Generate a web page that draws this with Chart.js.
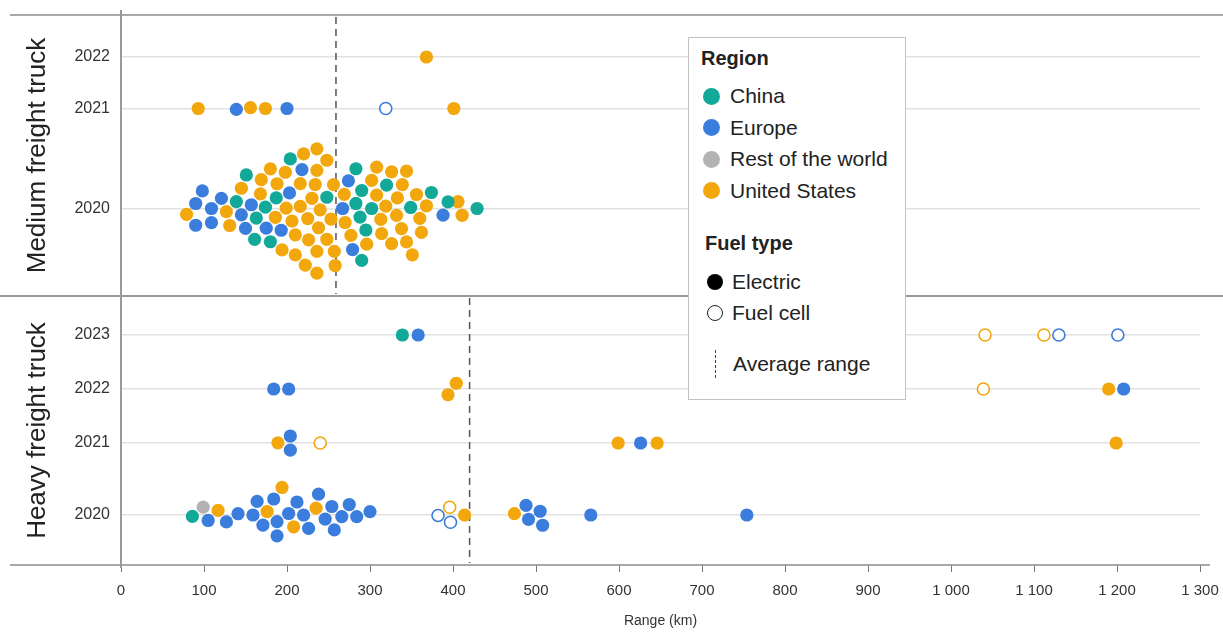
<!DOCTYPE html>
<html>
<head>
<meta charset="utf-8">
<script src="https://cdn.jsdelivr.net/npm/chart.js@4.4.1/dist/chart.umd.min.js"></script>
<style>
  html, body { margin: 0; padding: 0; background: #ffffff; }
  #wrap { position: relative; width: 1223px; height: 632px; overflow: hidden; }
  #chart { position: absolute; left: 0; top: 0; }
  #legend { position: absolute; left: 688px; top: 37px; width: 218px; height: 363px;
    box-sizing: border-box; border: 1.5px solid #c2c2c2; background: #ffffff;
    font-family: 'Liberation Sans', Arial, sans-serif; color: #222; }
  #legend .t { position: absolute; font-weight: bold; font-size: 20px; line-height: 24px; white-space: nowrap; }
  #legend .lab { position: absolute; font-size: 21px; line-height: 24px; white-space: nowrap; }
  #legend .dot { position: absolute; border-radius: 50%; box-sizing: border-box; }
  #legend .dash { position: absolute; width: 0; border-left: 1.5px dashed #444; }
</style>
</head>
<body>
<div id="wrap">
  <canvas id="chart" width="1223" height="632"></canvas>
  <div id="legend"></div>
</div>
<script>
// ---------------- DATA ----------------
const regions = ['China', 'Europe', 'Rest of the world', 'United States'];
const regionColors = ['#12a998', '#3b7ddc', '#b3b3b3', '#f2a70d'];
const fuelTypes = ['Electric', 'Fuel cell'];
const segments = ['Medium freight truck', 'Heavy freight truck'];
const mediumYears = ['2022', '2021', '2020'];
const heavyYears = ['2023', '2022', '2021', '2020'];
const xTickValues = [0, 100, 200, 300, 400, 500, 600, 700, 800, 900, 1000, 1100, 1200, 1300];

// Average range (km)
const avgMedium = 259;
const avgHeavy = 420;

// Medium freight truck ranges (km)
const medium2022US = [368];
const medium2021US = [93, 156, 174, 401];
const medium2021Europe = [139, 200];
const medium2021EuropeFC = [319];
const medium2020China = [139, 151, 161, 163, 174, 180, 187, 204, 248, 283, 283, 288, 290, 290, 295, 302, 320, 349, 374, 394, 429];
const medium2020Europe = [90, 90, 98, 109, 109, 121, 145, 150, 157, 175, 193, 203, 218, 267, 274, 279, 388];
const medium2020US = [79, 127, 131, 145, 168, 169, 180, 186, 188, 194, 198, 199, 206, 210, 210, 216, 216, 220, 222, 225,
  226, 230, 234, 236, 236, 236, 236, 238, 240, 248, 248, 253, 256, 257, 258, 269, 270, 277, 296, 302,
  308, 308, 313, 314, 319, 326, 326, 332, 333, 338, 339, 344, 344, 351, 356, 360, 362, 368, 406, 411];

// Heavy freight truck ranges (km)
const heavy2023China = [339];
const heavy2023Europe = [358];
const heavy2023USFC = [1041, 1112];
const heavy2023EuropeFC = [1130, 1201];
const heavy2022Europe = [184, 202, 1208];
const heavy2022US = [394, 404, 1190];
const heavy2022USFC = [1039];
const heavy2021US = [189, 599, 646, 1199];
const heavy2021Europe = [204, 204, 626];
const heavy2021USFC = [240];
const heavy2020China = [86];
const heavy2020Rest = [99];
const heavy2020US = [117, 176, 194, 208, 235, 414, 474];
const heavy2020Europe = [105, 127, 141, 159, 164, 171, 184, 188, 188, 202, 212, 220, 226, 238, 246, 254, 257, 266, 275, 284, 300,
  488, 491, 505, 508, 566, 754];
const heavy2020EuropeFC = [382, 397];
const heavy2020USFC = [396];

// ---------------- LAYOUT (not data) ----------------
// vertical position of each row (px below the top frame line)
const rowPositions = { m2022: 42, m2021: 93.5, m2020: 193.5, h2023: 320, h2022: 374, h2021: 428, h2020: 500 };
const rowLabels = { m2022: mediumYears[0], m2021: mediumYears[1], m2020: mediumYears[2],
  h2023: heavyYears[0], h2022: heavyYears[1], h2021: heavyYears[2], h2020: heavyYears[3] };
const panelRanges = { medium: [0, 281], heavy: [281, 550] };
const DOT_R = 6.6;
const SWARM_D = 14.2;
const FONT = "'Liberation Sans', Arial, sans-serif";

const seriesDefs = [
  ['m2022', 'United States', 'Electric', medium2022US],
  ['m2021', 'United States', 'Electric', medium2021US],
  ['m2021', 'Europe', 'Electric', medium2021Europe],
  ['m2021', 'Europe', 'Fuel cell', medium2021EuropeFC],
  ['m2020', 'China', 'Electric', medium2020China],
  ['m2020', 'Europe', 'Electric', medium2020Europe],
  ['m2020', 'United States', 'Electric', medium2020US],
  ['h2023', 'China', 'Electric', heavy2023China],
  ['h2023', 'Europe', 'Electric', heavy2023Europe],
  ['h2023', 'United States', 'Fuel cell', heavy2023USFC],
  ['h2023', 'Europe', 'Fuel cell', heavy2023EuropeFC],
  ['h2022', 'Europe', 'Electric', heavy2022Europe],
  ['h2022', 'United States', 'Electric', heavy2022US],
  ['h2022', 'United States', 'Fuel cell', heavy2022USFC],
  ['h2021', 'United States', 'Electric', heavy2021US],
  ['h2021', 'Europe', 'Electric', heavy2021Europe],
  ['h2021', 'United States', 'Fuel cell', heavy2021USFC],
  ['h2020', 'China', 'Electric', heavy2020China],
  ['h2020', 'Rest of the world', 'Electric', heavy2020Rest],
  ['h2020', 'United States', 'Electric', heavy2020US],
  ['h2020', 'Europe', 'Electric', heavy2020Europe],
  ['h2020', 'Europe', 'Fuel cell', heavy2020EuropeFC],
  ['h2020', 'United States', 'Fuel cell', heavy2020USFC]
];

const datasets = seriesDefs.map(([row, region, fuel, values]) => {
  const col = regionColors[regions.indexOf(region)];
  const electric = fuel === fuelTypes[0];
  return {
    type: 'scatter',
    swarm: true,
    label: region + ' - ' + fuel,
    data: values.map(v => ({ x: v, y: rowPositions[row], row: row })),
    pointRadius: electric ? DOT_R : DOT_R - 0.6,
    pointHoverRadius: DOT_R,
    pointStyle: 'circle',
    backgroundColor: electric ? col : '#ffffff',
    borderColor: col,
    borderWidth: electric ? 0 : 1.6,
    order: 1
  };
});

function avgLine(value, range) {
  return {
    type: 'line',
    data: [{ x: value, y: range[0] + 2 }, { x: value, y: range[1] - 2 }],
    borderColor: '#555555', borderWidth: 1.5, borderDash: [7, 5],
    pointRadius: 0, fill: false, order: 5
  };
}
datasets.push(avgLine(avgMedium, panelRanges.medium));
datasets.push(avgLine(avgHeavy, panelRanges.heavy));

const rowKeys = Object.keys(rowPositions);

function fmtKm(v) { return String(v).replace(/\B(?=(\d{3})+(?!\d))/g, ' '); }

const framePlugin = {
  id: 'frame',
  beforeDatasetsDraw(chart) {
    const { ctx, scales: { y }, chartArea: a } = chart;
    const ln = (x1, y1, x2, y2, w, c) => {
      ctx.beginPath(); ctx.lineWidth = w; ctx.strokeStyle = c;
      ctx.moveTo(x1, y1); ctx.lineTo(x2, y2); ctx.stroke();
    };
    ctx.save();
    const yTop = y.getPixelForValue(panelRanges.medium[0]);
    const ySplit = y.getPixelForValue(panelRanges.heavy[0]);
    const yBot = y.getPixelForValue(panelRanges.heavy[1]);
    ln(10, yTop, chart.width, yTop, 1.5, '#8c8c8c');
    ln(0, ySplit, chart.width, ySplit, 2, '#999999');
    ln(10, yBot, 1210, yBot, 1.5, '#8c8c8c');
    ln(a.left, 10, a.left, yBot + 3, 2, '#999999');
    ctx.restore();
  },
  afterDraw(chart) {
    const { ctx, scales: { y } } = chart;
    ctx.save();
    ctx.fillStyle = '#222';
    ctx.font = '26px ' + FONT;
    ctx.textAlign = 'center';
    ctx.textBaseline = 'middle';
    [[segments[0], panelRanges.medium], [segments[1], panelRanges.heavy]].forEach(([txt, r]) => {
      const mid = (y.getPixelForValue(r[0]) + y.getPixelForValue(r[1])) / 2;
      ctx.save();
      ctx.translate(38, mid);
      ctx.rotate(-Math.PI / 2);
      ctx.fillText(txt, 0, 0);
      ctx.restore();
    });
    ctx.restore();
  }
};

const chart = new Chart(document.getElementById('chart'), {
  type: 'scatter',
  data: { datasets },
  plugins: [framePlugin],
  options: {
    responsive: false,
    animation: false,
    events: [],
    layout: { padding: { left: 0, right: 23, top: 15, bottom: 0 } },
    plugins: { legend: { display: false }, tooltip: { enabled: false } },
    scales: {
      x: {
        type: 'linear', min: 0, max: 1300,
        afterBuildTicks: s => { s.ticks = xTickValues.map(v => ({ value: v })); },
        ticks: { callback: v => fmtKm(v), font: { size: 15, family: FONT }, color: '#333', padding: 10, maxRotation: 0, autoSkip: false },
        grid: { drawOnChartArea: false, drawTicks: true, tickLength: 7, color: '#777', lineWidth: 1 },
        border: { display: false },
        title: { display: true, text: 'Range (km)', font: { size: 14, family: FONT }, color: '#333', padding: { top: 0, bottom: 2 } },
        afterFit: s => { s.height = 67; s.paddingLeft = 0; s.paddingRight = 0; }
      },
      y: {
        type: 'linear', reverse: true, min: 0, max: 550,
        afterBuildTicks: s => { s.ticks = rowKeys.map(k => ({ value: rowPositions[k] })); },
        ticks: { callback: (v, i) => rowLabels[rowKeys[i]], font: { size: 16, family: FONT }, color: '#333', padding: 11, autoSkip: false },
        grid: { color: '#e2e2e2', lineWidth: 1.5, drawTicks: false },
        border: { display: false },
        afterFit: s => { s.width = 121; s.paddingTop = 0; s.paddingBottom = 0; }
      }
    }
  }
});

// Beeswarm placement computed from the library's own scales
function layoutSwarm(ch) {
  const xs = ch.scales.x, ys = ch.scales.y;
  const groups = {};
  ch.data.datasets.forEach((ds, di) => {
    if (!ds.swarm) return;
    ds.data.forEach((p, i) => {
      (groups[p.row] = groups[p.row] || []).push({ p, px: xs.getPixelForValue(p.x), dy: 0 });
    });
  });
  const D2 = SWARM_D * SWARM_D;
  Object.keys(groups).forEach(row => {
    const pts = groups[row].sort((a, b) => a.px - b.px);
    const placed = [];
    pts.forEach(pt => {
      const cands = [0];
      placed.forEach(q => {
        const dx = pt.px - q.px;
        if (Math.abs(dx) < SWARM_D) {
          const h = Math.sqrt(D2 - dx * dx);
          cands.push(q.dy + h, q.dy - h);
        }
      });
      cands.sort((a, b) => (Math.abs(a) - Math.abs(b)) || (a - b));
      const ok = c => placed.every(q => {
        const dx = pt.px - q.px, dy = c - q.dy;
        return dx * dx + dy * dy >= D2 - 0.05;
      });
      pt.dy = cands.find(ok);
      placed.push(pt);
    });
    // center each small touching cluster around its row line
    const seen = new Set();
    placed.forEach((s0, idx) => {
      if (seen.has(idx)) return;
      const comp = [idx]; seen.add(idx);
      for (let k = 0; k < comp.length; k++) {
        const a = placed[comp[k]];
        placed.forEach((b, j) => {
          if (seen.has(j)) return;
          const dx = a.px - b.px, dy = a.dy - b.dy;
          if (dx * dx + dy * dy <= (SWARM_D + 0.6) ** 2) { seen.add(j); comp.push(j); }
        });
      }
      if (comp.length > 1 && comp.length < 10) {
        const mean = comp.reduce((s, j) => s + placed[j].dy, 0) / comp.length;
        comp.forEach(j => { placed[j].dy -= mean; });
      }
    });
    const base = ys.getPixelForValue(rowPositions[row]);
    placed.forEach(pt => { pt.p.y = ys.getValueForPixel(base + pt.dy); });
  });
}
layoutSwarm(chart);
chart.update('none');

// ---------------- LEGEND (HTML, built from the arrays) ----------------
(function buildLegend() {
  const lg = document.getElementById('legend');
  const add = (cls, style, text) => {
    const d = document.createElement('div');
    d.className = cls;
    Object.assign(d.style, style);
    if (text) d.textContent = text;
    lg.appendChild(d);
    return d;
  };
  add('t', { left: '12px', top: '8px' }, 'Region');
  regions.forEach((r, i) => {
    const cy = 58 + i * 31.5;
    add('dot', { left: (22 - 8.5) + 'px', top: (cy - 8.5) + 'px', width: '17px', height: '17px', background: regionColors[i] });
    add('lab', { left: '41px', top: (cy - 12) + 'px' }, r);
  });
  add('t', { left: '16px', top: '193px' }, 'Fuel type');
  fuelTypes.forEach((f, i) => {
    const cy = 244 + i * 31;
    const st = { left: (26 - 8) + 'px', top: (cy - 8) + 'px', width: '16px', height: '16px' };
    if (i === 0) st.background = '#000'; else { st.border = '1.5px solid #222'; st.background = '#fff'; }
    add('dot', st);
    add('lab', { left: '43px', top: (cy - 12) + 'px' }, f);
  });
  add('dash', { left: '26px', top: '312px', height: '28px' });
  add('lab', { left: '44px', top: '314px' }, 'Average range');
})();
</script>
</body>
</html>
